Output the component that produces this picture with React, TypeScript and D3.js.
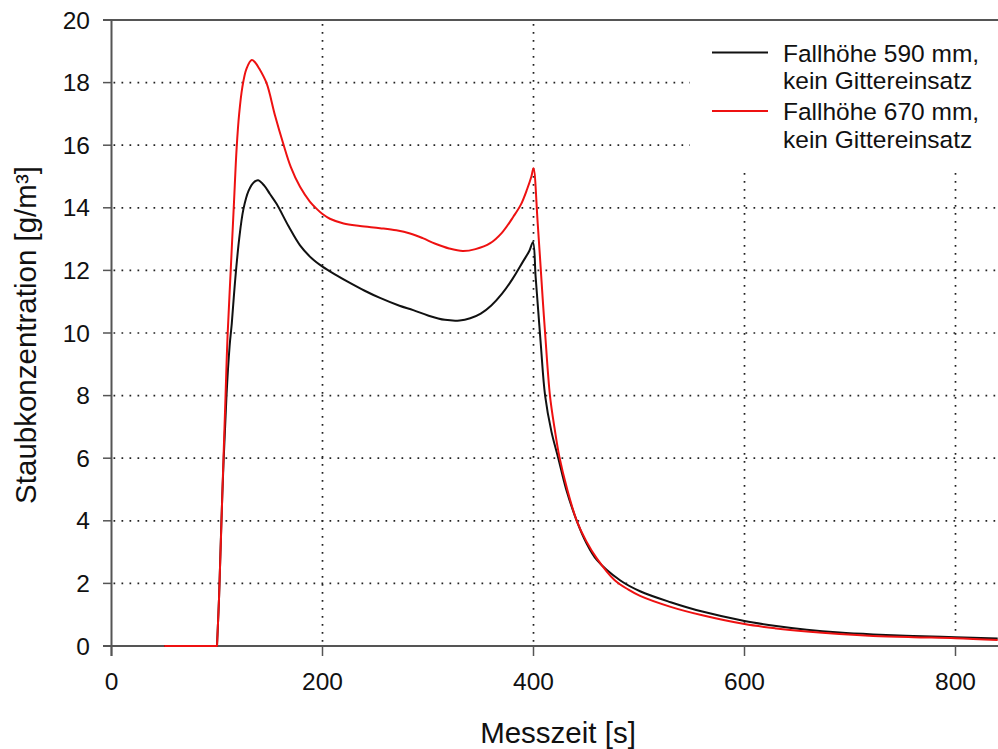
import React from "react";
import * as d3 from "d3";

const time590 = [50, 100, 102, 105, 109, 112, 114, 117, 121, 125, 130, 135, 139, 145, 150, 156.6, 168, 178.7, 190, 200, 213, 226, 240, 254.5, 273, 286, 300, 316, 330, 340, 350, 360, 370, 380, 390, 396, 399.5, 402, 404.5, 407, 411, 417, 423.5, 431, 441, 450, 460, 482, 501, 530, 560, 600, 630, 659, 690, 722, 760, 800, 840];
const conc590 = [0, 0, 1.6, 4.8, 8.0, 9.6, 10.3, 11.6, 13.0, 13.95, 14.55, 14.82, 14.88, 14.7, 14.45, 14.12, 13.4, 12.8, 12.38, 12.12, 11.85, 11.6, 11.35, 11.12, 10.87, 10.73, 10.56, 10.42, 10.4, 10.47, 10.62, 10.88, 11.25, 11.72, 12.28, 12.62, 12.9, 11.8, 10.7, 9.6, 8.0, 6.85, 6.0, 5.0, 4.0, 3.3, 2.75, 2.1, 1.75, 1.4, 1.1, 0.8, 0.64, 0.52, 0.43, 0.37, 0.32, 0.28, 0.24];

const time670 = [50, 100, 102, 105, 108, 110, 113, 116, 118.6, 121, 124, 128, 133, 136, 140, 147, 155, 162.6, 170, 178.7, 188, 195, 200, 207, 220, 235.5, 254.5, 270, 283, 295, 307, 320, 333, 345, 359, 370, 381, 388, 394, 398, 400, 404, 408.7, 411, 415.6, 420, 424.5, 432, 441, 450, 460, 477, 490, 501, 530, 560, 600, 630, 659, 690, 722, 760, 800, 840];
const conc670 = [0, 0, 1.6, 4.8, 7.9, 9.9, 12.0, 14.1, 15.9, 17.0, 17.85, 18.45, 18.72, 18.65, 18.45, 17.98, 16.95, 16.07, 15.3, 14.67, 14.2, 13.95, 13.8, 13.65, 13.5, 13.42, 13.35, 13.28, 13.18, 13.03, 12.85, 12.7, 12.62, 12.68, 12.87, 13.2, 13.72, 14.1, 14.6, 15.0, 15.26, 13.5, 11.1, 10.0, 8.0, 6.95, 6.05, 5.0, 4.0, 3.35, 2.8, 2.1, 1.8, 1.6, 1.25, 0.98, 0.7, 0.56, 0.46, 0.38, 0.32, 0.28, 0.25, 0.19];

const xTicks = [0, 200, 400, 600, 800];
const yTicks = [0, 2, 4, 6, 8, 10, 12, 14, 16, 18, 20];
const gridY = [2, 4, 6, 8, 10, 12, 14, 16, 18];
const gridX = [200, 400, 600, 800];
const seriesNames = ["Fallhöhe 590 mm,", "Fallhöhe 670 mm,"];
const seriesSub = ["kein Gittereinsatz", "kein Gittereinsatz"];
const colors = ["#111111", "#ee1111"];

const W = 998;
const H = 749;
const FONT = "'Liberation Sans', Arial, sans-serif";

export default function App() {
  const x = d3.scaleLinear().domain([0, 800]).range([111.5, 955.5]);
  const y = d3.scaleLinear().domain([0, 20]).range([646, 20]);
  const smooth = d3
    .line<[number, number]>()
    .x((d) => x(d[0]))
    .y((d) => y(d[1]))
    .curve(d3.curveCatmullRom.alpha(0.5));
  const straight = d3
    .line<[number, number]>()
    .x((d) => x(d[0]))
    .y((d) => y(d[1]));
  const build = (ts: number[], vs: number[]) => {
    const pts = ts.map((t, i) => [t, vs[i]] as [number, number]);
    const head = straight(pts.slice(0, 2)) || "";
    const tail = (smooth(pts.slice(1)) || "").replace(/^M/, "L");
    return head + tail;
  };
  const d590 = build(time590, conc590);
  const d670 = build(time670, conc670);
  const legX0 = 693;
  const legBottom = 170;
  const dots = { stroke: "#222", strokeWidth: 1.7, strokeDasharray: "1.7 6.3" };

  return (
    <svg width={W} height={H} style={{ position: "absolute", left: 0, top: 0, background: "#fff" }} fontFamily={FONT}>
      <defs>
        <clipPath id="plot">
          <rect x={111.5} y={0} width={W - 111.5} height={652} />
        </clipPath>
      </defs>
      <rect x={0} y={0} width={W} height={H} fill="#fff" />
      {/* grid */}
      {gridY.map((v) => (
        <line key={"gy" + v} x1={x(0) + 2} x2={y(v) < legBottom ? legX0 - 3 : W} y1={y(v)} y2={y(v)} {...dots} />
      ))}
      {gridX.map((v) => (
        <line key={"gx" + v} x1={x(v)} x2={x(v)} y1={x(v) > legX0 ? legBottom + 3 : y(20) + 4} y2={y(0) - 2} {...dots} />
      ))}
      {/* axes */}
      <line x1={x(0)} x2={x(0)} y1={y(20)} y2={656} stroke="#555" strokeWidth={2} />
      <line x1={103} x2={W} y1={y(0)} y2={y(0)} stroke="#555" strokeWidth={2} />
      <line x1={103} x2={W} y1={y(20)} y2={y(20)} stroke="#555" strokeWidth={2} />
      {yTicks.map((v) => (
        <g key={"yt" + v}>
          <line x1={103} x2={x(0)} y1={y(v)} y2={y(v)} stroke="#555" strokeWidth={1.5} />
          <text x={90} y={y(v) + 8.5} textAnchor="end" fontSize={24.5} fill="#111">
            {v}
          </text>
        </g>
      ))}
      {xTicks.map((v) => (
        <g key={"xt" + v}>
          <line x1={x(v)} x2={x(v)} y1={y(0)} y2={656} stroke="#555" strokeWidth={1.5} />
          <text x={x(v)} y={690} textAnchor="middle" fontSize={24.5} fill="#111">
            {v}
          </text>
        </g>
      ))}
      {/* data */}
      <g clipPath="url(#plot)">
        <path d={d590} fill="none" stroke={colors[0]} strokeWidth={2} strokeLinejoin="round" />
        <path d={d670} fill="none" stroke={colors[1]} strokeWidth={2} strokeLinejoin="round" />
      </g>
      <text x={558} y={743} textAnchor="middle" fontSize={29.5} fill="#111">
        Messzeit [s]
      </text>
      <text transform="translate(36,335) rotate(-90)" textAnchor="middle" fontSize={29.5} fill="#111">
        Staubkonzentration [g/m³]
      </text>
      {/* legend */}
      {seriesNames.map((name, i) => (
        <g key={"lg" + i}>
          <line x1={712} x2={768} y1={52.5 + i * 58.5} y2={52.5 + i * 58.5} stroke={colors[i]} strokeWidth={2} />
          <text x={783} y={61.5 + i * 58.5} fontSize={24.5} fill="#111">
            {name}
          </text>
          <text x={783} y={89 + i * 58.5} fontSize={24.5} fill="#111">
            {seriesSub[i]}
          </text>
        </g>
      ))}
    </svg>
  );
}
